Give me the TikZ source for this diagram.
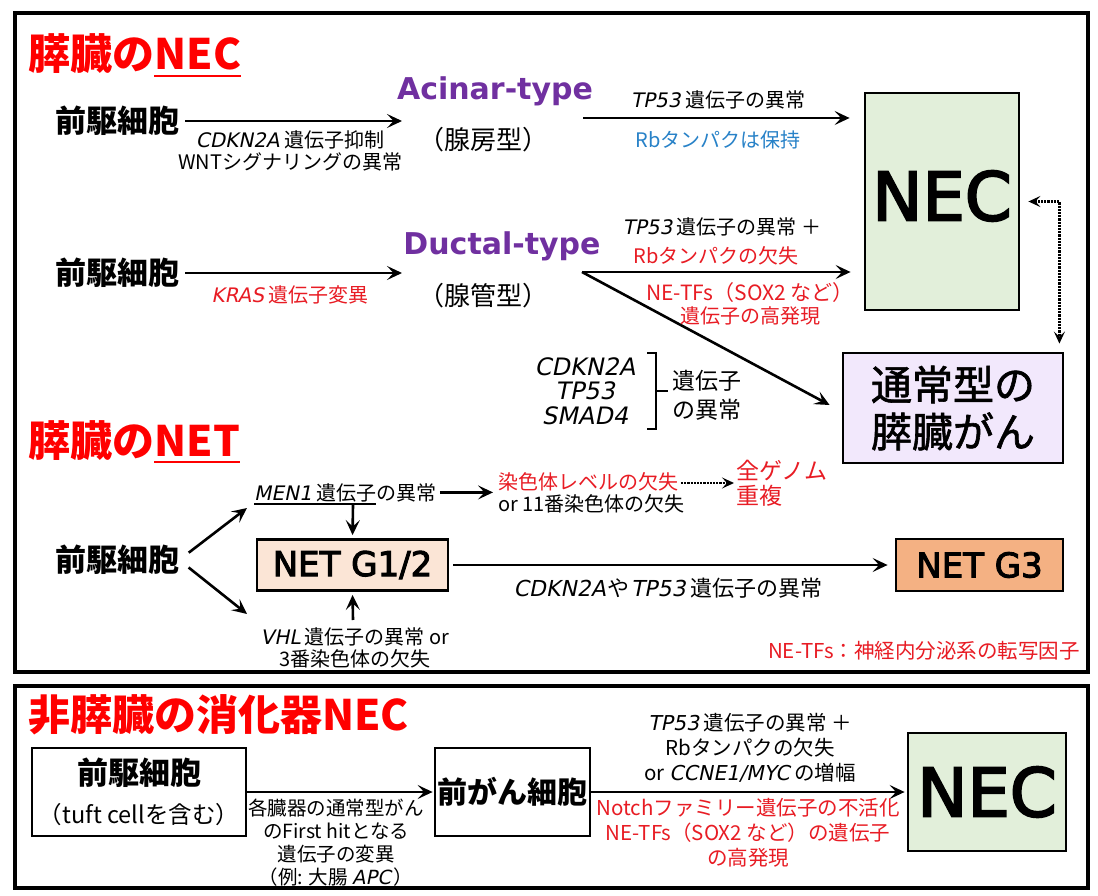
\documentclass[tikz,border=0pt]{standalone}
\usepackage{fontspec}
\setmainfont{Noto Sans CJK JP}
\newfontfamily\gfont{DejaVu Sans}[FakeSlant=0.2]
\newfontfamily\lfont{DejaVu Sans}
\newfontfamily\mfont{DejaVu Sans}[FakeBold=3]
\newfontfamily\jpm{Noto Sans CJK JP}[FakeBold=1.5]
\usetikzlibrary{arrows.meta,calc}
\definecolor{tred}{RGB}{255,0,0}
\definecolor{lred}{RGB}{232,28,36}
\definecolor{tblue}{RGB}{40,130,200}
\definecolor{tpurple}{RGB}{112,48,160}
\definecolor{ngreen}{RGB}{226,239,218}
\definecolor{plav}{RGB}{242,232,252}
\definecolor{peach}{RGB}{251,229,214}
\definecolor{orng}{RGB}{244,177,131}
\newcommand\gn[1]{{\gfont #1}}
\tikzset{
  arr/.style={line width=2.6pt,-{Stealth[length=15pt,width=14pt,inset=6.5pt]}},
  dotarr/.style={line width=2.2pt,densely dotted,{Stealth[length=12pt,width=11pt,inset=5pt]}-{Stealth[length=12pt,width=11pt,inset=5pt]}},
  dotarrone/.style={line width=2.2pt,densely dotted,-{Stealth[length=12pt,width=11pt,inset=5pt]}},
  ttl/.style={inner sep=0pt,text=tred,font={\fontsize{42}{46}\selectfont\bfseries}},
  cell/.style={inner sep=0pt,font={\fontsize{31}{34}\selectfont\bfseries}},
  ptype/.style={inner sep=0pt,text=tpurple,font={\lfont\bfseries\fontsize{30}{33}\selectfont}},
  jp/.style={inner sep=0pt,font={\fontsize{26}{30}\selectfont}},
  lbl/.style={inner sep=0pt,align=center,font={\fontsize{20}{22}\selectfont}},
  lblb/.style={inner sep=0pt,align=center,font={\fontsize{20.5}{25}\selectfont}},
  lblc/.style={inner sep=0pt,align=center,font={\fontsize{19.5}{23}\selectfont}},
  gst/.style={inner sep=0pt,align=center,font={\fontsize{24}{24.5}\selectfont}},
  bigl/.style={inner sep=0pt,font={\fontsize{23}{25}\selectfont}},
  box/.style={draw,line width=2.8pt,inner sep=0pt},
  necbox/.style={box,fill=ngreen,font={\mfont\fontsize{67}{70}\selectfont}},
  netbox/.style={box,font={\mfont\fontsize{34}{38}\selectfont}},
  ul/.style={line width=2.5pt,tred}
}
\begin{document}
\begin{tikzpicture}[x=1pt,y=-1pt]
\useasboundingbox[fill=white] (0,0) rectangle (1098,896);
% outer frames
\draw[line width=4pt] (15,13) rectangle (1088,672);
\draw[line width=4pt] (15,686) rectangle (1088,888);

% ===== Pancreatic NEC =====
\node[ttl,anchor=base west] (t1a) at (28,70) {膵臓の};
\node[ttl,anchor=base west] (t1b) at (t1a.base east) {NEC};
\draw[ul] ([yshift=-6pt]t1b.base west) -- ([yshift=-6pt]t1b.base east);

\node[cell] (p1) at (117,121) {前駆細胞};
\coordinate (e1) at (402,121);
\draw[arr,shorten <=6pt] (p1.east) -- (e1);
\node[lbl] (l1) at (290,151) {\gn{CDKN2A} 遺伝子抑制\\WNTシグナリングの異常};

\node[ptype] (ac) at (495,91) {Acinar-type};
\node[jp] (acj) at (483,140) {（腺房型）};

\node[necbox,minimum width=154pt,minimum height=217pt,text depth=12pt] (nec1) at (942,201.5) {NEC};

\coordinate (s2) at (583,118);
\draw[arr,shorten >=14pt] (s2) -- (s2 -| nec1.west);
\node[lbl] (l2) at (718,100) {\gn{TP53} 遺伝子の異常};
\node[lbl,text=tblue] (l3) at (718,140) {Rbタンパクは保持};

\node[cell] (p2) at (117,273) {前駆細胞};
\coordinate (e3) at (402,273);
\draw[arr,shorten <=6pt] (p2.east) -- (e3);
\node[lbl,text=lred] (l4) at (290,295) {\gn{KRAS} 遺伝子変異};

\node[ptype] (du) at (502,246) {Ductal-type};
\node[jp] (duj) at (483,296) {（腺管型）};

\node[box,fill=plav,minimum width=220pt,minimum height=110pt,align=center,font={\jpm\fontsize{41}{47}\selectfont}] (ptc) at (953,408) {通常型の\\膵臓がん};

\coordinate (s4) at (582,272);
\draw[arr,shorten >=13pt] (s4) -- (s4 -| nec1.west);
\draw[arr] (s4) -- ([xshift=-12pt,yshift=3pt]ptc.west);
\node[lbl] (l5) at (722,227) {\gn{TP53} 遺伝子の異常 ＋};
\node[lbl,text=lred] (l6) at (716,256) {Rbタンパクの欠失};
\node[lbl,text=lred,font={\fontsize{21}{23}\selectfont}] (l7) at (750,293) {NE-TFs（SOX2 など）};
\node[lbl,text=lred] (l8) at (750,316) {遺伝子の高発現};

\node[gst] (gs) at (585,391) {\gn{CDKN2A}\\\gn{TP53}\\\gn{SMAD4}};
\draw[line width=2pt] (647,353) -- (656,353) -- (656,429) -- (647,429);
\draw[line width=2pt] (656,391) -- (668,391);
\node[inner sep=0pt,align=left,font={\fontsize{23}{29}\selectfont}] (gq) at (707,395) {遺伝子\\の異常};

\draw[dotarr] ([xshift=8pt]nec1.east) -| ([xshift=-5pt,yshift=8pt]ptc.north east);

% ===== Pancreatic NET =====
\node[ttl,anchor=base west] (t2a) at (28,456) {膵臓の};
\node[ttl,anchor=base west] (t2b) at (t2a.base east) {NET};
\draw[ul] ([yshift=-6pt]t2b.base west) -- ([yshift=-6pt]t2b.base east);

\node[cell] (p3) at (117,560) {前駆細胞};
\coordinate (u1) at (247,508);
\coordinate (d1) at (247,614);
\draw[arr,shorten <=12pt] (p3.east) -- (u1);
\draw[arr,shorten <=12pt] (p3.east) -- (d1);

\node[lbl,anchor=base west] (m1) at (254,500) {\gn{MEN1} 遺伝子};
\node[lbl,anchor=base west] (m2) at (m1.base east) {の異常};
\draw[line width=1.2pt] ([yshift=-4pt]m1.base west) -- ([yshift=-4pt]m1.base east);

\node[lbl,anchor=west,align=left] (chr) at (498,493) {\textcolor{lred}{染色体レベルの欠失}\\or 11番染色体の欠失};
\draw[arr,shorten <=3pt,shorten >=5pt] (m2.east) -- (m2.east -| chr.west);

\node[bigl,anchor=west,align=left,text=lred] (wgd) at (736,483) {全ゲノム\\重複};
\draw[dotarrone,shorten <=-4pt,shorten >=2pt] (chr.east |- wgd.west) -- (wgd.west);

\node[netbox,fill=peach,minimum width=191pt,minimum height=51pt] (g12) at (352.5,565) {NET G1/2};
\coordinate (mdn) at (353,505);
\draw[arr,shorten >=3pt] (mdn) -- (g12.north);
\coordinate (vup) at (353,620);
\draw[arr,shorten >=3pt] (vup) -- (g12.south);
\node[lbl] (vhl) at (355,648) {\gn{VHL} 遺伝子の異常 or\\3番染色体の欠失};

\node[netbox,fill=orng,minimum width=167pt,minimum height=52pt] (g3) at (979.5,565) {NET G3};
\draw[arr,shorten <=4pt,shorten >=7pt] (g12.east) -- (g3.west);
\node[lbl,font={\fontsize{22}{24}\selectfont}] (l9) at (668,588) {\gn{CDKN2A}\kern2pt や\kern1pt\gn{TP53} 遺伝子の異常};

\node[lbl,text=lred,anchor=east,font={\fontsize{20.5}{22}\selectfont}] (fn) at (1080,651) {NE-TFs：神経内分泌系の転写因子};

% ===== Non-pancreatic GI NEC =====
\node[ttl,anchor=base west] (t3) at (28,730) {非膵臓の消化器NEC};

\node[box,fill=white,minimum width=214pt,minimum height=88pt] (pc) at (139,792) {};
\node[cell] (pct) at (139,773) {前駆細胞};
\node[inner sep=0pt,font={\fontsize{23.5}{26}\selectfont}] (pcs) at (139,815) {（tuft cellを含む）};

\node[box,fill=white,minimum width=155pt,minimum height=88pt,font={\fontsize{30}{34}\selectfont\bfseries}] (pgc) at (512.5,792) {前がん細胞};
\draw[arr,shorten >=1pt] (pc.east) -- (pgc.west);
\node[lblc] (l10) at (336,843) {各臓器の通常型がん\\のFirst hitとなる\\遺伝子の変異\\（例: 大腸 \gn{APC}\kern3pt）};

\node[necbox,minimum width=158pt,minimum height=118pt] (nec2) at (987,792) {NEC};
\draw[arr,shorten >=2pt] (pgc.east) -- (nec2.west);
\node[lblb] (l11) at (750,748) {\gn{TP53} 遺伝子の異常 ＋\\Rbタンパクの欠失\\or \gn{CCNE1/MYC} の増幅};
\node[lblb,text=lred] (l12) at (748,833) {Notchファミリー遺伝子の不活化\\NE-TFs（SOX2 など）の遺伝子\\の高発現};
\end{tikzpicture}
\end{document}
